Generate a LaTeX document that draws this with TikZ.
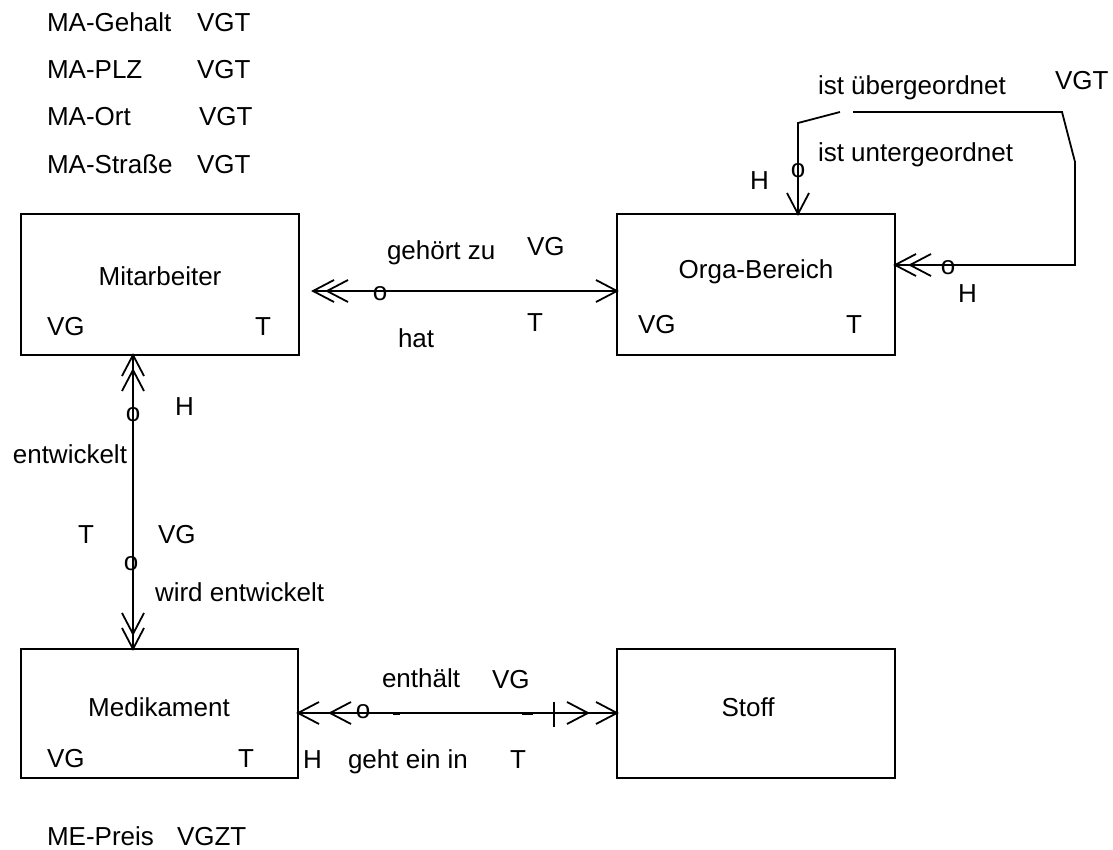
\documentclass[tikz,border=0pt]{standalone}
\usepackage{fontspec}
\setmainfont{Liberation Sans}
\tikzset{
  % open chevron arrow head, tip at the origin, pointing towards -x
  pics/chev/.style={code={
    \draw[line width=1.8pt, line join=miter] (21,-11) -- (0,0) -- (21,11);
  }},
}
\begin{document}
\begin{tikzpicture}[x=1pt,y=-1pt,
  every node/.style={font=\fontsize{26}{31}\selectfont, inner sep=0pt, outer sep=0pt},
  entity/.style={draw, line width=1.8pt, anchor=north west, minimum width=278pt, minimum height=141pt},
  lbl/.style={anchor=base west},
  lblr/.style={anchor=base east},
  ename/.style={anchor=base},
  circ/.style={anchor=center},
  conn/.style={line width=1.8pt, line join=miter},
  thick tick/.style={line width=1.4pt},
  toleft/.style={},
  toright/.style={rotate=180},
  toup/.style={rotate=270},
  todown/.style={rotate=90},
]
\useasboundingbox (0,0) rectangle (1113,850);

% attribute list of Mitarbeiter
\node[lbl] (a1) at (47,32)  {MA-Gehalt};
\node[lbl] (a1v) at (197,32) {VGT};
\node[lbl] (a2) at (47,79)  {MA-PLZ};
\node[lbl] (a2v) at (197,79) {VGT};
\node[lbl] (a3) at (47,126) {MA-Ort};
\node[lbl] (a3v) at (199,126) {VGT};
\node[lbl] (a4) at (47,174) {MA-Straße};
\node[lbl] (a4v) at (197,174) {VGT};

% entities
\node[entity] (Mit) at (21,214) {};
\node[entity] (Org) at (617,214) {};
\node[entity, minimum width=277pt, minimum height=129pt] (Med) at (21,649) {};
\node[entity, minimum height=129pt] (Sto) at (617,649) {};

\node[ename] (tMit) at (160,285) {Mitarbeiter};
\node[lbl] (Mitvg) at (47,335) {VG};
\node[lbl] (Mitt) at (255,335) {T};

\node[ename] (tOrg) at (756,279) {Orga-Bereich};
\node[lbl] (Orgvg) at (638,333) {VG};
\node[lbl] (Orgt) at (846,333) {T};

\node[ename] (tMed) at (159,716) {Medikament};
\node[lbl] (Medvg) at (47,767) {VG};
\node[lbl] (Medt) at (238,767) {T};

\node[ename] (tSto) at (748,716) {Stoff};

% attribute of Medikament
\node[lbl] (p1) at (47,845) {ME-Preis};
\node[lbl] (p1v) at (177,845) {VGZT};

% Mitarbeiter -- Orga-Bereich
\coordinate (g1) at (313,291);
\draw[conn] (g1) -- (Org.west |- g1);
\pic[toleft] at (g1) {chev};
\pic[toleft] at ([xshift=14pt]g1) {chev};
\pic[toright] at (Org.west |- g1) {chev};
\node[circ] (o1) at (380,294) {o};
\node[lbl] at (387,260) {gehört zu};
\node[lbl] at (527,255) {VG};
\node[lbl] at (527,331) {T};
\node[lbl] at (398,347) {hat};

% Mitarbeiter -- Medikament
\coordinate (v1) at ([xshift=-27pt]Mit.south);
\coordinate (v2) at ([xshift=-26.5pt]Med.north);
\draw[conn] (v1) -- (v2);
\pic[toup] at (v1) {chev};
\pic[toup] at ([yshift=-15pt]v1) {chev};
\pic[todown] at (v2) {chev};
\pic[todown] at ([yshift=15pt]v2) {chev};
\node[circ] (o2) at (133,415) {o};
\node[circ] (o3) at (131,564) {o};
\node[lbl] at (175,415) {H};
\node[lblr] at (127,463) {entwickelt};
\node[lbl] at (78,543) {T};
\node[lbl] at (158,543) {VG};
\node[lbl] at (155,601) {wird entwickelt};

% Medikament -- Stoff
\coordinate (b1) at (300,713);
\draw[conn] (Med.east |- b1) -- (Sto.west |- b1);
\pic[toleft] at (Med.east |- b1) {chev};
\pic[toleft] at ([xshift=32pt]Med.east |- b1) {chev};
\pic[toright] at (Sto.west |- b1) {chev};
\pic[toright] at ([xshift=-29pt]Sto.west |- b1) {chev};
\draw[conn] ([xshift=-63pt,yshift=-14pt]Sto.west |- b1) -- ([xshift=-63pt,yshift=11pt]Sto.west |- b1);
\draw[thick tick] (393,714) -- (400,714);
\draw[thick tick] (522,714) -- (533,714);
\node[circ] (o4) at (363,712) {o};
\node[lbl] at (382,687) {enthält};
\node[lbl] at (492,688) {VG};
\node[lbl] at (303,768) {H};
\node[lbl] at (348,768) {geht ein in};
\node[lbl] at (510,768) {T};

% Orga-Bereich recursive relationship
\coordinate (la) at (840,112);
\coordinate (lb) at (853,112);
\coordinate (lr) at (895,265);
\coordinate (lt) at ([xshift=42pt]Org.north);
\draw[conn] (lt) -- (798,123) -- (la);
\draw[conn] (Org.east |- lr) -- (1075,265) -- (1075,162) -- (1062,112) -- (lb);
\pic[todown] at (lt) {chev};
\pic[toleft] at (Org.east |- lr) {chev};
\pic[toleft] at ([xshift=15pt]Org.east |- lr) {chev};
\node[circ] (o5) at (798,171) {o};
\node[circ] (o6) at (948,268) {o};
\node[lbl] at (818,95) {ist übergeordnet};
\node[lbl] at (1055,90) {VGT};
\node[lbl] at (818,162) {ist untergeordnet};
\node[lbl] at (750,190) {H};
\node[lbl] at (958,302) {H};
\end{tikzpicture}
\end{document}
